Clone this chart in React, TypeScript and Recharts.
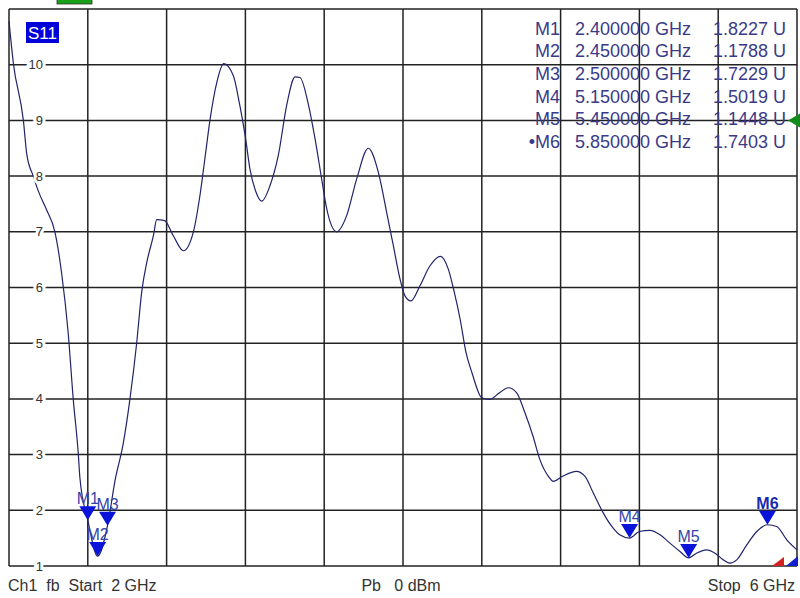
import React from 'react';
import { LineChart, Line, XAxis, YAxis, CartesianGrid, ReferenceDot } from 'recharts';

// S11 trace (frequency in GHz, SWR in U)
const freqGHz = [
  2.0, 2.022, 2.073, 2.09, 2.123, 2.149, 2.19, 2.233, 2.267, 2.3, 2.326, 2.352, 2.36,
  2.4, 2.45, 2.5, 2.538, 2.58, 2.614, 2.648, 2.674, 2.7, 2.733, 2.75, 2.79, 2.834,
  2.885, 2.936, 2.97, 2.995, 3.02, 3.054, 3.09, 3.139, 3.17, 3.2, 3.223, 3.25, 3.283,
  3.325, 3.367, 3.41, 3.452, 3.477, 3.52, 3.553, 3.587, 3.613, 3.663, 3.714, 3.765,
  3.824, 3.874, 3.917, 3.951, 3.985, 4.01, 4.04, 4.086, 4.137, 4.19, 4.23, 4.26, 4.29,
  4.32, 4.35, 4.4, 4.44, 4.49, 4.535, 4.577, 4.619, 4.66, 4.695, 4.738, 4.763, 4.81,
  4.88, 4.924, 4.966, 5.017, 5.06, 5.1, 5.15, 5.2, 5.254, 5.305, 5.355, 5.406, 5.45,
  5.49, 5.54, 5.584, 5.626, 5.66, 5.694, 5.745, 5.796, 5.85, 5.897, 5.948, 6.0,
];
const swrU = [
  10.78, 10.03, 9.0, 8.4, 8.0, 7.73, 7.4, 7.0, 6.26, 5.2, 4.0, 3.0, 2.58,
  1.8227, 1.1788, 1.7229, 2.53, 3.2, 4.0, 5.0, 5.93, 6.46, 6.93, 7.22, 7.2, 6.93,
  6.66, 7.0, 7.67, 8.33, 9.0, 9.67, 10.02, 9.8, 9.3, 8.7, 8.13, 7.75, 7.55,
  7.83, 8.37, 9.28, 9.78, 9.77, 9.28, 8.68, 7.95, 7.41, 7.0, 7.29, 7.95,
  8.5, 8.08, 7.35, 6.75, 6.15, 5.85, 5.76, 6.03, 6.39, 6.56, 6.33, 5.92, 5.43,
  4.83, 4.47, 4.02, 3.99, 4.11, 4.2, 4.11, 3.75, 3.33, 2.91, 2.61, 2.52, 2.61,
  2.7, 2.61, 2.31, 1.95, 1.71, 1.56, 1.5019, 1.62, 1.64, 1.56, 1.41, 1.26, 1.1448,
  1.23, 1.29, 1.23, 1.11, 1.05, 1.11, 1.38, 1.62, 1.7403, 1.71, 1.47, 1.29,
];

const markerNames = ['M1', 'M2', 'M3', 'M4', 'M5', 'M6'];
const markerFreqs = [2.4, 2.45, 2.5, 5.15, 5.45, 5.85];
const markerValues = [1.8227, 1.1788, 1.7229, 1.5019, 1.1448, 1.7403];
const markerFreqLabels = ['2.400000 GHz', '2.450000 GHz', '2.500000 GHz', '5.150000 GHz', '5.450000 GHz', '5.850000 GHz'];
const markerValueLabels = ['1.8227 U', '1.1788 U', '1.7229 U', '1.5019 U', '1.1448 U', '1.7403 U'];
const activeMarker = 'M6';

const xTicks = [2, 2.4, 2.8, 3.2, 3.6, 4, 4.4, 4.8, 5.2, 5.6, 6];
const yTicks = [1, 2, 3, 4, 5, 6, 7, 8, 9, 10, 11];
const yTickLabels = [1, 2, 3, 4, 5, 6, 7, 8, 9, 10];
const refLevel = 9;

const data = freqGHz.map((f, i) => ({ f, swr: swrU[i] }));

const FONT = '"Liberation Sans", Arial, sans-serif';

// tick label drawn inside the grid, right-aligned, with a white halo that breaks the grid line
const tickShape = (label: number) => (props: any) => {
  const { cx, cy } = props;
  return (
    <text x={cx + 34} y={cy + 4.5} textAnchor="end" fontSize={13} fontFamily={FONT} fill="#333"
      stroke="#fff" strokeWidth={6} paintOrder="stroke">
      {label}
    </text>
  );
};

const markerShape = (name: string) => (props: any) => {
  const { cx, cy } = props;
  const bold = name === activeMarker;
  return (
    <g>
      <polygon points={`${cx - 8.5},${cy - 14} ${cx + 8.5},${cy - 14} ${cx},${cy}`} fill="#0a14d8" />
      <text x={cx} y={cy - 16} textAnchor="middle" fontSize={16} fontFamily={FONT}
        fontWeight={bold ? 'bold' : 'normal'} fill={bold ? '#1a2ab0' : '#3444a8'}>
        {name}
      </text>
    </g>
  );
};

const refShape = (props: any) => {
  const { cx, cy } = props;
  return <polygon points={`${cx - 9},${cy} ${cx + 3},${cy - 7} ${cx + 3},${cy + 7}`} fill="#138a1c" />;
};

const sweepShape = (props: any) => {
  const { cx, cy } = props;
  return (
    <g>
      <polygon points={`${cx - 25},${cy} ${cx - 13},${cy} ${cx - 13},${cy - 9}`} fill="#d42020" />
      <polygon points={`${cx - 11},${cy} ${cx + 1},${cy} ${cx + 1},${cy - 10}`} fill="#1020d0" />
    </g>
  );
};

export default function App() {
  return (
    <div style={{ position: 'absolute', left: 0, top: 0, width: 800, height: 598, background: '#fff', overflow: 'hidden' }}>
      <LineChart width={800} height={598} data={data} margin={{ top: 9, right: 3, bottom: 32, left: 9 }}>
        <CartesianGrid stroke="#222" strokeWidth={1.5} />
        <XAxis dataKey="f" type="number" domain={[2, 6]} ticks={xTicks} hide />
        <YAxis type="number" domain={[1, 11]} ticks={yTicks} hide />
        <Line type="monotone" dataKey="swr" stroke="#20246a" strokeWidth={1.2} dot={false}
          isAnimationActive={false} />
        {yTickLabels.map((v) => (
          <ReferenceDot key={`t${v}`} x={2} y={v} shape={tickShape(v)} />
        ))}
        {markerNames.map((n, i) => (
          <ReferenceDot key={n} x={markerFreqs[i]} y={markerValues[i]} shape={markerShape(n)} />
        ))}
        <ReferenceDot x={6} y={refLevel} shape={refShape} />
        <ReferenceDot x={6} y={1} shape={sweepShape} />
      </LineChart>

      <svg width={800} height={598} style={{ position: 'absolute', left: 0, top: 0, pointerEvents: 'none' }}
        fontFamily={FONT}>
        {/* channel indicator at the cut-off header */}
        <rect x={57} y={-2} width={35} height={6} fill="#18a018" stroke="#333" strokeWidth={0.8} />

        {/* trace label */}
        <rect x={26} y={22} width={33} height={21} fill="#0000d8" />
        <text x={42.5} y={38.5} textAnchor="middle" fontSize={17} fill="#fff">S11</text>

        {/* marker table */}
        {markerNames.map((n, i) => {
          const y = 34.5 + i * 22.7;
          return (
            <g key={n} fill="#3a3a88" fontSize={18}>
              <text x={560} y={y} textAnchor="end">{n === activeMarker ? '\u2022' + n : n}</text>
              <text x={575} y={y}>{markerFreqLabels[i]}</text>
              <text x={713} y={y}>{markerValueLabels[i]}</text>
            </g>
          );
        })}

        {/* channel footer */}
        <g fontSize={16} fill="#333">
          <text x={8} y={591} xmlSpace="preserve">Ch1  fb  Start  2 GHz</text>
          <text x={401} y={591} textAnchor="middle" xmlSpace="preserve">Pb   0 dBm</text>
          <text x={795} y={591} textAnchor="end" xmlSpace="preserve">Stop  6 GHz</text>
        </g>
      </svg>
    </div>
  );
}
